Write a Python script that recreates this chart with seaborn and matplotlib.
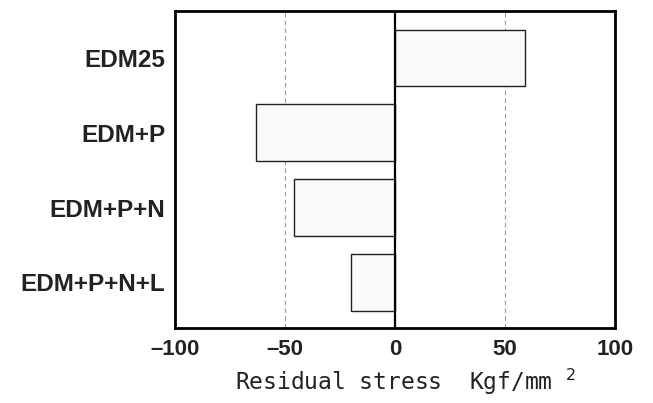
import matplotlib
matplotlib.use("Agg")
import matplotlib.pyplot as plt
import seaborn as sns
import pandas as pd

# values
treatments = ["EDM25", "EDM+P", "EDM+P+N", "EDM+P+N+L"]
stress = [59, -63, -46, -20]
xticks = [-100, -50, 0, 50, 100]

df = pd.DataFrame({"treatment": treatments, "stress": stress})

sns.set_style("white")
plt.rcParams["font.family"] = ["Liberation Sans", "DejaVu Sans"]

fig = plt.figure(figsize=(6.53, 4.03), dpi=100)
ax = fig.add_axes([0.268, 0.186, 0.674, 0.787])

sns.barplot(data=df, x="stress", y="treatment", orient="h", order=treatments,
            color="#fafafa", edgecolor="#222222", linewidth=1.0, width=0.76,
            saturation=1, ax=ax)

for v in [-50, 50]:
    ax.axvline(v, color="#999999", lw=0.8, ls=(0, (4, 3)), zorder=0)
ax.axvline(0, color="black", lw=1.6, zorder=3)

ax.set_xlim(-100, 100)
ax.set_ylim(3.61, -0.63)
ax.set_xticks(xticks)
ax.set_xticklabels([str(t).replace("-", "\u2013") for t in xticks],
                   fontsize=16, fontweight="bold")
ax.set_yticks(range(len(treatments)))
ax.set_yticklabels(treatments, fontsize=17.5, fontweight="bold")
ax.tick_params(axis="both", length=0, pad=8, colors="#222222")
ax.tick_params(axis="y", pad=7)

ax.set_ylabel("")
ax.set_xlabel("Residual stress  Kgf/mm $^2$", family="DejaVu Sans Mono",
              fontsize=16.5, labelpad=5, color="#222222")
ax.xaxis.label.set_x(0.525)

for s in ax.spines.values():
    s.set_visible(True)
    s.set_color("black")
    s.set_linewidth(2.0)

fig.savefig("out.png", dpi=100)
